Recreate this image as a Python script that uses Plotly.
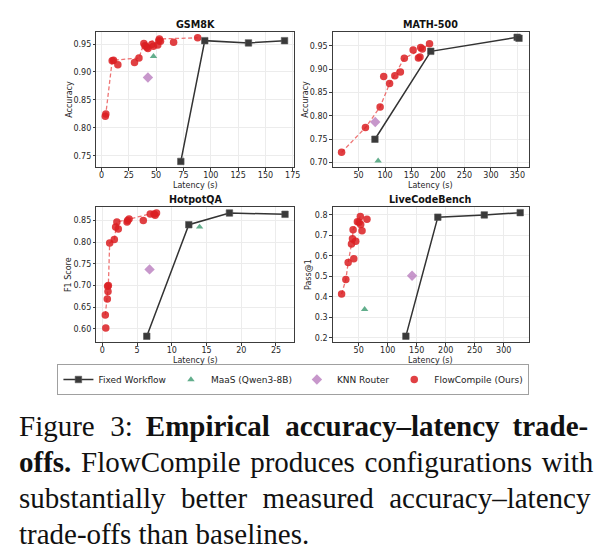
import plotly.graph_objects as go

# ---------------- data ----------------
panel_titles = ["GSM8K", "MATH-500", "HotpotQA", "LiveCodeBench"]
y_labels = ["Accuracy", "Accuracy", "F1 Score", "Pass@1"]
x_label = "Latency (s)"
series_names = ["Fixed Workflow", "MaaS (Qwen3-8B)", "KNN Router", "FlowCompile (Ours)"]

# GSM8K
gsm_flow_lat = [3.5, 4.0, 9.8, 11.0, 15.0, 30.2, 34.3, 38.8, 39.8, 41.5, 42.5, 46.0, 47.5, 51.5, 52.5, 53.0, 54.0, 66.0, 88.0]
gsm_flow_acc = [0.821, 0.825, 0.920, 0.921, 0.913, 0.917, 0.925, 0.951, 0.947, 0.944, 0.942, 0.949, 0.946, 0.948, 0.956, 0.959, 0.955, 0.953, 0.961]
gsm_front_lat = [3.5, 4.0, 9.8, 11.0, 34.3, 38.8, 53.0, 88.0]
gsm_front_acc = [0.821, 0.825, 0.920, 0.921, 0.925, 0.951, 0.959, 0.961]
gsm_fixed_lat = [72.6, 94.5, 134.5, 167.5]
gsm_fixed_acc = [0.740, 0.956, 0.952, 0.956]
gsm_maas_lat, gsm_maas_acc = [47.6], [0.928]
gsm_knn_lat, gsm_knn_acc = [42.5], [0.890]

# MATH-500
math_flow_lat = [17.9, 63.0, 90.7, 97.5, 108.6, 118.5, 129.0, 136.4, 153.1, 163.0, 166.0, 167.3, 170.4, 184.0]
math_flow_acc = [0.722, 0.775, 0.819, 0.884, 0.869, 0.886, 0.894, 0.923, 0.941, 0.924, 0.926, 0.946, 0.943, 0.954]
math_front_lat = [17.9, 63.0, 90.7, 108.6, 136.4, 170.4, 184.0]
math_front_acc = [0.722, 0.775, 0.819, 0.869, 0.923, 0.943, 0.954]
math_fixed_lat = [80.9, 186.4, 349.5, 353.0]
math_fixed_acc = [0.750, 0.938, 0.968, 0.966]
math_maas_lat, math_maas_acc = [87.0], [0.704]
math_knn_lat, math_knn_acc = [81.5], [0.787]

# HotpotQA
hot_flow_lat = [0.43, 0.50, 0.72, 0.82, 0.77, 0.87, 1.06, 1.73, 1.92, 2.10, 2.30, 3.56, 3.65, 3.85, 5.90, 6.90, 7.45, 7.60, 7.80]
hot_flow_f1 = [0.632, 0.602, 0.669, 0.686, 0.698, 0.700, 0.798, 0.806, 0.835, 0.846, 0.830, 0.846, 0.850, 0.853, 0.850, 0.865, 0.865, 0.862, 0.867]
hot_front_lat = [0.43, 0.77, 0.87, 1.06, 1.73, 2.10, 3.85, 6.90, 7.80]
hot_front_f1 = [0.632, 0.698, 0.700, 0.798, 0.806, 0.846, 0.853, 0.865, 0.867]
hot_fixed_lat = [6.4, 12.45, 18.3, 26.3]
hot_fixed_f1 = [0.583, 0.840, 0.867, 0.864]
hot_maas_lat, hot_maas_f1 = [14.0], [0.835]
hot_knn_lat, hot_knn_f1 = [6.8], [0.737]

# LiveCodeBench
lcb_flow_lat = [20.5, 27.8, 31.8, 37.5, 39.2, 40.3, 41.5, 44.9, 47.7, 50.6, 52.8, 53.4, 55.7, 64.2]
lcb_flow_pass = [0.414, 0.484, 0.567, 0.658, 0.683, 0.728, 0.586, 0.671, 0.767, 0.764, 0.792, 0.753, 0.722, 0.779]
lcb_front_lat = [20.5, 27.8, 31.8, 37.5, 39.2, 40.3, 47.7, 52.8]
lcb_front_pass = [0.414, 0.484, 0.567, 0.658, 0.683, 0.728, 0.767, 0.792]
lcb_fixed_lat = [131.3, 186.4, 266.5, 328.4]
lcb_fixed_pass = [0.208, 0.789, 0.800, 0.811]
lcb_maas_lat, lcb_maas_pass = [60.2], [0.339]
lcb_knn_lat, lcb_knn_pass = [142.0], [0.503]

# tick labels
gsm_xticks = [0, 25, 50, 75, 100, 125, 150, 175]
gsm_yticks = [0.75, 0.80, 0.85, 0.90, 0.95]
math_xticks = [50, 100, 150, 200, 250, 300, 350]
math_yticks = [0.70, 0.75, 0.80, 0.85, 0.90, 0.95]
hot_xticks = [0, 5, 10, 15, 20, 25]
hot_yticks = [0.60, 0.65, 0.70, 0.75, 0.80, 0.85]
lcb_xticks = [50, 100, 150, 200, 250, 300]
lcb_yticks = [0.2, 0.3, 0.4, 0.5, 0.6, 0.7, 0.8]

caption_lines = [
    "Figure 3: <b>Empirical accuracy–latency trade-</b>",
    "<b>offs.</b> FlowCompile produces configurations with",
    "substantially better measured accuracy–latency",
    "trade-offs than baselines.",
]

# extra inter-word padding (imitates the justified caption), one entry per space
TH, HA = "\u2009", "\u200a"
caption_pad = [
    [TH + HA, TH, TH + HA, TH],
    [HA, HA, HA, HA, HA],
    [TH + HA, TH + HA, TH + HA],
    [],
]

# ---------------- styling / layout ----------------
W, H = 606, 558
FONT = "DejaVu Sans"
RED = "rgba(218,30,34,0.85)"
RED_LINE = "rgba(232,70,70,0.75)"
DARK = "#3a3a3a"
GREEN = "rgba(70,160,120,0.85)"
PLUM = "rgba(185,125,190,0.8)"

panels = [
    dict(flow=(gsm_flow_lat, gsm_flow_acc), front=(gsm_front_lat, gsm_front_acc),
         fixed=(gsm_fixed_lat, gsm_fixed_acc), maas=(gsm_maas_lat, gsm_maas_acc),
         knn=(gsm_knn_lat, gsm_knn_acc), xt=gsm_xticks, yt=gsm_yticks, yfmt=".2f",
         xr=[-4.7, 176.2], yr=[0.7295, 0.972], box=(97.3, 297.0, 31.7, 167.3), ylo=27.3),
    dict(flow=(math_flow_lat, math_flow_acc), front=(math_front_lat, math_front_acc),
         fixed=(math_fixed_lat, math_fixed_acc), maas=(math_maas_lat, math_maas_acc),
         knn=(math_knn_lat, math_knn_acc), xt=math_xticks, yt=math_yticks, yfmt=".2f",
         xr=[1.1, 371.9], yr=[0.690, 0.980], box=(336.0, 534.3, 31.7, 167.3), ylo=27.7),
    dict(flow=(hot_flow_lat, hot_flow_f1), front=(hot_front_lat, hot_front_f1),
         fixed=(hot_fixed_lat, hot_fixed_f1), maas=(hot_maas_lat, hot_maas_f1),
         knn=(hot_knn_lat, hot_knn_f1), xt=hot_xticks, yt=hot_yticks, yfmt=".2f",
         xr=[-0.86, 27.6], yr=[0.569, 0.882], box=(97.3, 297.0, 206.5, 342.3), ylo=28.0),
    dict(flow=(lcb_flow_lat, lcb_flow_pass), front=(lcb_front_lat, lcb_front_pass),
         fixed=(lcb_fixed_lat, lcb_fixed_pass), maas=(lcb_maas_lat, lcb_maas_pass),
         knn=(lcb_knn_lat, lcb_knn_pass), xt=lcb_xticks, yt=lcb_yticks, yfmt=".1f",
         xr=[5.1, 343.6], yr=[0.178, 0.841], box=(336.0, 534.3, 206.5, 342.3), ylo=24.3),
]

fig = go.Figure()
annotations = []
layout_axes = {}

for i, p in enumerate(panels):
    n = "" if i == 0 else str(i + 1)
    xa, ya = "x" + n, "y" + n
    first = i == 0
    fig.add_trace(go.Scatter(x=p["front"][0], y=p["front"][1], mode="lines",
                             line=dict(color=RED_LINE, width=1.3, dash="4px,2.5px"),
                             showlegend=False, hoverinfo="skip", xaxis=xa, yaxis=ya))
    fig.add_trace(go.Scatter(x=p["flow"][0], y=p["flow"][1], mode="markers", name=series_names[3],
                             marker=dict(symbol="circle", size=7.5, color=RED, line=dict(width=0)),
                             showlegend=first, legendrank=4, xaxis=xa, yaxis=ya))
    fig.add_trace(go.Scatter(x=p["maas"][0], y=p["maas"][1], mode="markers", name=series_names[1],
                             marker=dict(symbol="triangle-up", size=6.5, color=GREEN, line=dict(width=0)),
                             showlegend=first, legendrank=2, xaxis=xa, yaxis=ya))
    fig.add_trace(go.Scatter(x=p["knn"][0], y=p["knn"][1], mode="markers", name=series_names[2],
                             marker=dict(symbol="diamond", size=8, color=PLUM, line=dict(width=0)),
                             showlegend=first, legendrank=3, xaxis=xa, yaxis=ya))
    fig.add_trace(go.Scatter(x=p["fixed"][0], y=p["fixed"][1], mode="lines+markers", name=series_names[0],
                             line=dict(color="#333333", width=1.5),
                             marker=dict(symbol="square", size=6.5, color=DARK, line=dict(width=0.6, color="#555555")),
                             showlegend=first, legendrank=1, xaxis=xa, yaxis=ya))

    l, r, t, b = p["box"]
    common = dict(showline=True, mirror=True, linecolor="#3c3c3c", linewidth=1,
                  ticks="outside", ticklen=2.5, tickwidth=0.8, tickcolor="#3c3c3c",
                  showgrid=True, gridcolor="#ececec", gridwidth=0.7, zeroline=False,
                  tickfont=dict(family=FONT, size=8, color="#262626"))
    layout_axes["xaxis" + n] = dict(common, domain=[l / W, r / W], range=p["xr"],
                                    tickvals=p["xt"], ticktext=[str(v) for v in p["xt"]],
                                    anchor=ya, ticklabelstandoff=-2)
    layout_axes["yaxis" + n] = dict(common, domain=[1 - b / H, 1 - t / H], range=p["yr"],
                                    tickvals=p["yt"], tickformat=p["yfmt"], anchor=xa)
    annotations.append(dict(text="<b>" + panel_titles[i] + "</b>", xref="paper", yref="paper",
                            x=(l + r) / 2 / W, y=1 - (t - 7.5) / H, xanchor="center", yanchor="middle",
                            showarrow=False, font=dict(family=FONT, size=9.6, color="#111111")))
    annotations.append(dict(text=x_label, xref="paper", yref="paper",
                            x=(l + r) / 2 / W, y=1 - (b + 18.3) / H, xanchor="center", yanchor="middle",
                            showarrow=False, font=dict(family=FONT, size=8, color="#262626")))
    annotations.append(dict(text=y_labels[i], xref="paper", yref="paper", textangle=-90,
                            x=(l - p["ylo"]) / W, y=1 - (t + b) / 2 / H, xanchor="center", yanchor="middle",
                            showarrow=False, font=dict(family=FONT, size=8, color="#262626")))


def pad_line(line, pads):
    parts = line.split(" ")
    out = parts[0]
    for k, part in enumerate(parts[1:]):
        out += " " + (pads[k] if k < len(pads) else "") + part
    return out


cap_y = [426, 462, 498, 534]
for line, pads, yy in zip(caption_lines, caption_pad, cap_y):
    annotations.append(dict(text=pad_line(line, pads), xref="paper", yref="paper", x=17 / W, y=1 - yy / H,
                            xanchor="left", yanchor="middle", showarrow=False,
                            font=dict(family="Liberation Serif", size=29, color="#111111")))

fig.update_layout(
    width=W, height=H, margin=dict(l=0, r=0, t=0, b=0),
    paper_bgcolor="white", plot_bgcolor="white",
    showlegend=True,
    legend=dict(orientation="h", x=58 / W, y=1 - 364 / H, xanchor="left", yanchor="top",
                bordercolor="#a0a0a0", borderwidth=1, bgcolor="white",
                font=dict(family=FONT, size=9, color="#222222"), itemwidth=30,
                traceorder="normal"),
    annotations=annotations,
    **layout_axes,
)

fig.write_html("out.html")
